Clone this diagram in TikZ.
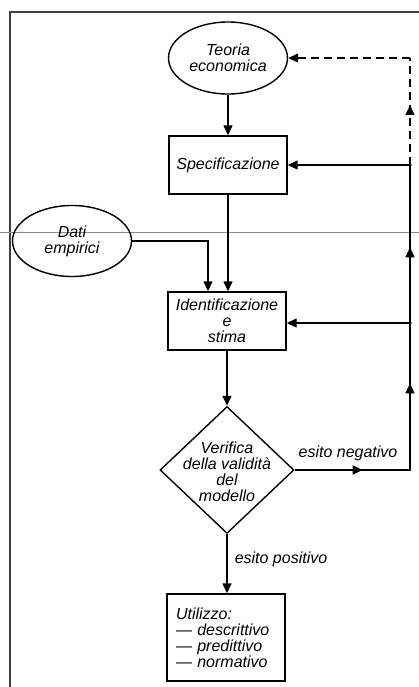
\documentclass[tikz,border=0pt]{standalone}
\usepackage{fontspec}
\setmainfont{Liberation Sans}
\usetikzlibrary{shapes.geometric,arrows.meta,decorations.markings}
\begin{document}
\begin{tikzpicture}[x=1pt,y=-1pt,
  every node/.style={font=\fontsize{16}{16}\selectfont\itshape},
  ln/.style={line width=1.4pt},
  ell/.style={draw, ln, ellipse, minimum width=119pt, minimum height=72pt, inner sep=0pt, align=center},
  box/.style={draw, ln, rectangle, minimum width=118pt, minimum height=58pt, inner sep=0pt, align=center},
  diam/.style={draw, ln, diamond, minimum width=134pt, minimum height=127pt, inner sep=0pt},
  tip/.tip={Triangle[length=10pt,width=9pt]},
  arr/.style={ln, -tip},
  lbl/.style={inner sep=0pt, anchor=base}
]
\useasboundingbox (0,0) rectangle (419,687);
% frame and scan line
\draw[line width=2.5pt, black!75] (10,687) -- (10,12) -- (419,12);
\draw[line width=0.8pt, black!45] (0,232) -- (419,232);

% nodes
\node[ell] (teo) at (228,58) {Teoria\\economica};
\node[box] (spec) at (228,165) {Specificazione};
\node[ell, minimum height=71pt] (dati) at (72,241) {Dati\\empirici};
\node[box] (ident) at (227,321) {Identificazione\\e\\stima};
\node[diam] (ver) at (227,470) {};
\node[inner sep=0pt, align=center] (vertxt) at (227,472) {Verifica\\della validità\\del\\modello};
\node[box, minimum height=87pt, text width=100pt, inner xsep=9pt, align=left] (uti) at (226,637.5)
  {Utilizzo:\\— descrittivo\\— predittivo\\— normativo};

% feedback coordinates
\coordinate (fbT) at (410,58);
\coordinate (fbS) at (410,165);
\coordinate (fbI) at (410,323);
\coordinate (fbV) at (410,470);

% main flow
\draw[arr] (teo) -- (spec);
\draw[arr] (spec.south) -- (spec.south |- ident.north);
\draw[arr] (dati.east) -| ([xshift=-19pt]ident.north);
\draw[arr] (ident) -- (ver.north);
\draw[arr] (ver.south) -- (ver.south |- uti.north);

% negative feedback
\draw[ln, postaction={decorate}, decoration={markings,
    mark=at position 68pt with {\arrow{tip}},
    mark=at position 202pt with {\arrow{tip}},
    mark=at position 338pt with {\arrow{tip}}}]
  (ver.east) -- (fbV) -- (fbS);
\draw[arr] (fbS) -- (spec.east);
\draw[arr] (fbI) -- (fbI -| ident.east);
\draw[ln, dash pattern=on 8pt off 5pt, postaction={decorate}, decoration={markings,
    mark=at position 60pt with {\arrow[solid]{tip}}}]
  (fbS) -- (fbT);
\draw[ln, dash pattern=on 8pt off 5pt, -{tip[sep=0pt]}] (fbT) -- (teo.east);
\fill (fbS) circle (1.8pt);
\fill (fbI) circle (1.8pt);

% labels
\node[lbl] (neg) at (348,457) {esito negativo};
\node[lbl] (pos) at (281,563) {esito positivo};
\end{tikzpicture}
\end{document}
